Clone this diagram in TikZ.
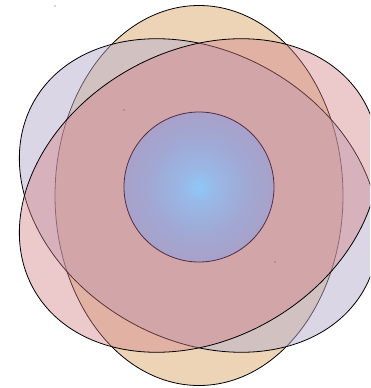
\documentclass[tikz,border=0pt]{standalone}
\begin{document}
\begin{tikzpicture}[x=1pt,y=-1pt,
  outl/.style={draw=black,line width=0.8pt},
  ellO/.style={outl,fill={rgb,255:red,219;green,170;blue,112},fill opacity=0.5},
  ellL/.style={outl,fill={rgb,255:red,183;green,173;blue,203},fill opacity=0.5},
  ellP/.style={outl,fill={rgb,255:red,210;green,128;blue,134},fill opacity=0.42},
  ballstyle/.style={draw={rgb,255:red,80;green,45;blue,70},line width=0.8pt,shading=ball3}]
\pgfdeclareradialshading{ball3}{\pgfpoint{0bp}{0bp}}{rgb(0bp)=(0.56,0.78,0.97);rgb(6bp)=(0.6,0.72,0.9);rgb(16bp)=(0.63,0.66,0.83);rgb(25bp)=(0.66,0.63,0.79);rgb(50bp)=(0.66,0.63,0.79)}
\useasboundingbox (0,0) rectangle (370,388);
\clip (0,0) rectangle (370,388);
\coordinate (c) at (199,195.5);
\coordinate (b) at (199,187);
\path[ellO] (c) ellipse [x radius=144, y radius=190];
\begin{scope}[shift={(c)},rotate=-30]
  \path[ellL] (0,0) ellipse [x radius=190, y radius=144];
\end{scope}
\begin{scope}[shift={(c)},rotate=30]
  \path[ellP] (0,0) ellipse [x radius=190, y radius=144];
\end{scope}
\path[ballstyle] (b) circle [radius=75];
\fill[black!70] (55,6) circle [radius=0.6];
\fill[black!70] (124,110) circle [radius=0.6];
\fill[black!70] (275,262) circle [radius=0.6];
\end{tikzpicture}
\end{document}
